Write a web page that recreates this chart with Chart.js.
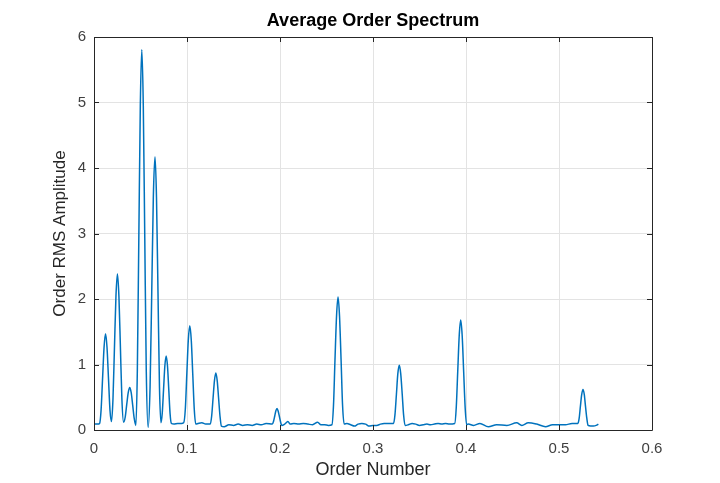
<!DOCTYPE html>
<html>
<head>
<meta charset="utf-8">
<script src="https://cdn.jsdelivr.net/npm/chart.js@4/dist/chart.umd.min.js"></script>
<style>
html,body{margin:0;padding:0;background:#fff;}
canvas{display:block;}
</style>
</head>
<body>
<canvas id="c" width="720" height="483"></canvas>
<script>
// Order numbers (x)
const orders = [
  0.0000, 0.0040, 0.0060, 0.0076, 0.0092, 0.0108, 0.0124, 0.0140, 0.0156, 0.0172,
  0.0188, 0.0204, 0.0220, 0.0236, 0.0252, 0.0268, 0.0284, 0.0300, 0.0318,
  0.0336, 0.0352, 0.0368, 0.0384, 0.0400, 0.0416, 0.0432, 0.0450,
  0.0466, 0.0482, 0.0498, 0.0514, 0.0530, 0.0546, 0.0562, 0.0582,
  0.0603, 0.0621, 0.0638, 0.0656, 0.0672, 0.0688, 0.0704, 0.0720,
  0.0734, 0.0748, 0.0762, 0.0776, 0.0790, 0.0804, 0.0818, 0.0832, 0.0860, 0.0900, 0.0940, 0.0964,
  0.0982, 0.0998, 0.1014, 0.1030, 0.1046, 0.1062, 0.1078, 0.1094,
  0.1120, 0.1160, 0.1200, 0.1250,
  0.1265, 0.1280, 0.1295, 0.1310, 0.1325, 0.1340, 0.1355, 0.1370,
  0.1400, 0.1450, 0.1500, 0.1550, 0.1600, 0.1650, 0.1700, 0.1750, 0.1800, 0.1850, 0.1918,
  0.1930, 0.1943, 0.1955, 0.1968, 0.1980, 0.1993, 0.2005, 0.2018,
  0.2050, 0.2085, 0.2110, 0.2150, 0.2200, 0.2250, 0.2300, 0.2350, 0.2405, 0.2440, 0.2480, 0.2520, 0.2558,
  0.2575, 0.2591, 0.2608, 0.2624, 0.2640, 0.2657, 0.2673, 0.2690,
  0.2720, 0.2760, 0.2800, 0.2840, 0.2880, 0.2920, 0.2960, 0.3000, 0.3040, 0.3080, 0.3120, 0.3160, 0.3221,
  0.3236, 0.3252, 0.3267, 0.3283, 0.3298, 0.3314, 0.3329, 0.3345,
  0.3380, 0.3420, 0.3460, 0.3500, 0.3540, 0.3580, 0.3620, 0.3660, 0.3700, 0.3740, 0.3780, 0.3820, 0.3879,
  0.3895, 0.3911, 0.3927, 0.3943, 0.3959, 0.3975, 0.3991, 0.4007,
  0.4025, 0.4082, 0.4150, 0.4240, 0.4330, 0.4440, 0.4545, 0.4600, 0.4670, 0.4760, 0.4855, 0.4930, 0.5000, 0.5070, 0.5140, 0.5203,
  0.5217, 0.5230, 0.5244, 0.5258, 0.5272, 0.5285, 0.5299, 0.5313,
  0.5340, 0.5370, 0.5400, 0.5423
];
// Order RMS amplitude (y)
const amplitudes = [
  0.09, 0.09, 0.10, 0.30, 0.78, 1.26, 1.47, 1.26, 0.78, 0.30,
  0.13, 0.47, 1.26, 2.04, 2.38, 2.04, 1.26, 0.47, 0.12,
  0.20, 0.39, 0.57, 0.65, 0.57, 0.38, 0.18, 0.07,
  0.91, 2.93, 4.95, 5.81, 4.95, 2.93, 0.91, 0.04,
  0.66, 2.11, 3.55, 4.17, 3.55, 2.11, 0.66, 0.11,
  0.26, 0.62, 0.98, 1.13, 0.98, 0.62, 0.25, 0.10, 0.09, 0.10, 0.10, 0.11,
  0.32, 0.85, 1.37, 1.59, 1.37, 0.85, 0.32, 0.09,
  0.10, 0.11, 0.09, 0.09,
  0.21, 0.48, 0.75, 0.87, 0.75, 0.48, 0.21, 0.06,
  0.05, 0.08, 0.07, 0.09, 0.07, 0.08, 0.07, 0.09, 0.08, 0.10, 0.09,
  0.13, 0.21, 0.29, 0.33, 0.29, 0.21, 0.13, 0.07,
  0.09, 0.13, 0.09, 0.10, 0.09, 0.10, 0.09, 0.08, 0.12, 0.08, 0.08, 0.07, 0.08,
  0.37, 1.06, 1.74, 2.03, 1.74, 1.06, 0.37, 0.09,
  0.10, 0.08, 0.06, 0.09, 0.10, 0.09, 0.06, 0.07, 0.07, 0.09, 0.10, 0.10, 0.10,
  0.23, 0.55, 0.86, 0.99, 0.86, 0.55, 0.23, 0.07,
  0.08, 0.10, 0.09, 0.07, 0.08, 0.09, 0.08, 0.09, 0.10, 0.09, 0.10, 0.09, 0.10,
  0.34, 0.89, 1.44, 1.68, 1.44, 0.89, 0.34, 0.08,
  0.09, 0.07, 0.10, 0.05, 0.08, 0.07, 0.11, 0.07, 0.11, 0.09, 0.05, 0.08, 0.08, 0.08, 0.10, 0.10,
  0.18, 0.36, 0.54, 0.62, 0.54, 0.36, 0.18, 0.07,
  0.06, 0.06, 0.07, 0.09
];
const xTickValues = [0, 0.1, 0.2, 0.3, 0.4, 0.5, 0.6];
const yTickValues = [0, 1, 2, 3, 4, 5, 6];
const titleText = 'Average Order Spectrum';
const xTitle = 'Order Number';
const yTitle = 'Order RMS Amplitude';

const FONT = '"Liberation Sans", Arial, Helvetica, sans-serif';
const axisColor = '#262626';
const tickLabelColor = '#404040';

const boxPlugin = {
  id: 'boxPlugin',
  afterDraw(chart) {
    const {ctx, chartArea: a, scales: {x, y}} = chart;
    ctx.save();
    ctx.strokeStyle = axisColor;
    ctx.lineWidth = 1;
    ctx.beginPath();
    ctx.rect(Math.round(a.left) + 0.5, Math.round(a.top) + 0.5, Math.round(a.right - a.left), Math.round(a.bottom - a.top));
    ctx.stroke();
    const tl = 5;
    ctx.beginPath();
    xTickValues.forEach(v => {
      const px = Math.round(x.getPixelForValue(v)) + 0.5;
      ctx.moveTo(px, a.bottom); ctx.lineTo(px, a.bottom - tl);
      ctx.moveTo(px, a.top); ctx.lineTo(px, a.top + tl);
    });
    yTickValues.forEach(v => {
      const py = Math.round(y.getPixelForValue(v)) + 0.5;
      ctx.moveTo(a.left, py); ctx.lineTo(a.left + tl, py);
      ctx.moveTo(a.right, py); ctx.lineTo(a.right - tl, py);
    });
    ctx.stroke();
    ctx.restore();
  }
};

new Chart(document.getElementById('c'), {
  type: 'line',
  data: {
    datasets: [{
      data: orders.map((o, i) => ({x: o, y: amplitudes[i]})),
      borderColor: '#0072BD',
      borderWidth: 1.5,
      pointRadius: 0,
      fill: false,
      cubicInterpolationMode: 'monotone'
    }]
  },
  options: {
    responsive: false,
    animation: false,
    layout: {padding: {left: 0, right: 68, top: 0, bottom: 0}},
    plugins: {
      legend: {display: false},
      tooltip: {enabled: false},
      title: {
        display: true,
        fullSize: false,
        text: titleText,
        color: '#000',
        font: {family: FONT, size: 18, weight: 'bold'},
        padding: {top: 10.5, bottom: 4.9}
      }
    },
    scales: {
      x: {
        type: 'linear',
        min: 0, max: 0.6,
        afterFit(s) { s.height = 53; },
        afterBuildTicks(s) { s.ticks = xTickValues.map(v => ({value: v})); },
        ticks: {
          color: tickLabelColor,
          font: {family: FONT, size: 15},
          padding: 10,
          maxRotation: 0,
          callback: v => String(v)
        },
        grid: {color: '#e3e3e3', drawTicks: false},
        border: {display: false},
        title: {
          display: true,
          text: xTitle,
          color: axisColor,
          font: {family: FONT, size: 18},
          padding: {top: 0, bottom: 2.2}
        }
      },
      y: {
        type: 'linear',
        min: 0, max: 6,
        afterFit(s) { s.width = 94; },
        afterBuildTicks(s) { s.ticks = yTickValues.map(v => ({value: v})); },
        ticks: {
          color: tickLabelColor,
          font: {family: FONT, size: 15},
          padding: 8,
          callback: v => String(v)
        },
        grid: {color: '#e3e3e3', drawTicks: false},
        border: {display: false},
        title: {
          display: true,
          text: yTitle,
          color: axisColor,
          font: {family: FONT, size: 17},
          padding: {top: 49.8, bottom: 0}
        }
      }
    }
  },
  plugins: [boxPlugin]
});
</script>
</body>
</html>
